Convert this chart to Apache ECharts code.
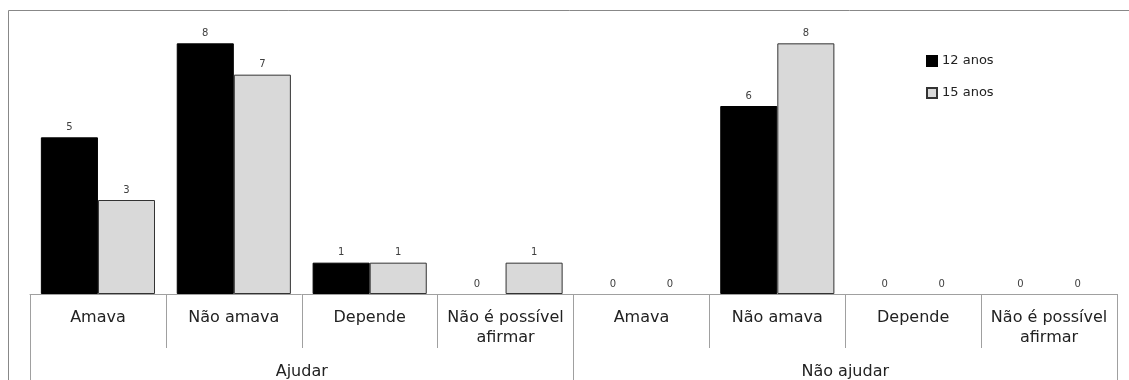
<!DOCTYPE html>
<html>
<head>
<meta charset="utf-8">
<script src="https://cdn.jsdelivr.net/npm/echarts@6/dist/echarts.min.js"></script>
<style>html,body{margin:0;padding:0;background:#fff}#c{width:1129px;height:380px}</style>
</head>
<body>
<div id="c"></div>
<script>
const categories = ['Amava','Não amava','Depende','Não é possível\nafirmar','Amava','Não amava','Depende','Não é possível\nafirmar'];
const groups = ['Ajudar','Não ajudar'];
const seriesNames = ['12 anos','15 anos'];
const values12 = [5, 8, 1, 0, 0, 6, 0, 0];
const values15 = [3, 7, 1, 1, 0, 8, 0, 0];

function withNoZeroBorder(arr){
  return arr.map(v => v === 0 ? {value:v, itemStyle:{borderWidth:0}} : v);
}

const chart = echarts.init(document.getElementById('c'), null, {renderer:'canvas'});
const labelStyle = {show:true, position:'top', distance:5, fontSize:10, color:'#404040', fontFamily:'DejaVu Sans'};
chart.setOption({
  animation:false,
  backgroundColor:'#fff',
  graphic:[{type:'rect', shape:{x:8.5,y:10.5,width:1300,height:500}, style:{fill:'none', stroke:'#888', lineWidth:1}, silent:true, z:-1}],
  grid:{left:30, right:12, top:12, bottom:86, containLabel:false, outerBoundsMode:'none'},
  legend:{
    orient:'vertical', left:921, top:49, itemWidth:10, itemHeight:10, itemGap:18, icon:'rect',
    textStyle:{fontSize:13, color:'#222', fontFamily:'DejaVu Sans', lineHeight:14},
    data:seriesNames
  },
  xAxis:[
    {type:'category', data:categories, position:'bottom',
     axisLine:{show:true, lineStyle:{color:'#a0a0a0', width:1}},
     axisTick:{show:true, interval:0, length:54, lineStyle:{color:'#a0a0a0'}},
     axisLabel:{interval:0, margin:14, fontSize:16, lineHeight:20, color:'#222', fontFamily:'DejaVu Sans'}},
    {type:'category', data:groups, position:'bottom',
     axisLine:{show:false},
     axisTick:{show:true, interval:0, length:90, lineStyle:{color:'#a0a0a0'}},
     axisLabel:{interval:0, margin:68, fontSize:16, lineHeight:20, color:'#222', fontFamily:'DejaVu Sans'}}
  ],
  yAxis:{type:'value', min:0, max:9, show:false, splitLine:{show:false}},
  series:[
    {name:seriesNames[0], type:'bar', xAxisIndex:0, data:withNoZeroBorder(values12), barGap:'0%', barCategoryGap:'16%',
     itemStyle:{color:'#000', borderColor:'#000', borderWidth:1}, label:labelStyle},
    {name:seriesNames[1], type:'bar', xAxisIndex:0, data:withNoZeroBorder(values15), barGap:'0%', barCategoryGap:'16%',
     itemStyle:{color:'#d9d9d9', borderColor:'#333', borderWidth:1}, label:labelStyle}
  ]
});
</script>
</body>
</html>
